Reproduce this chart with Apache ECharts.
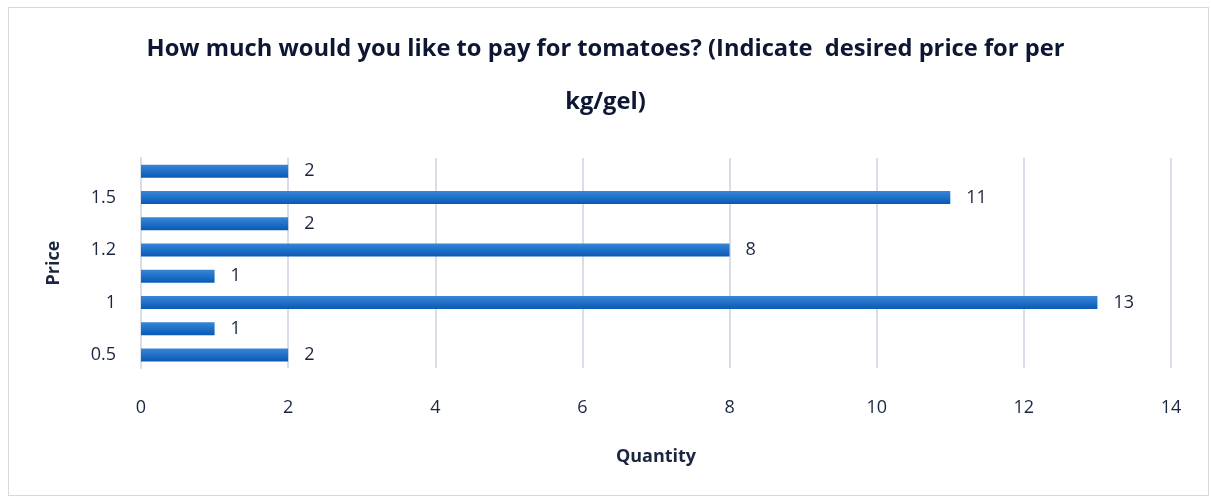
<!DOCTYPE html>
<html>
<head>
<meta charset="utf-8">
<script src="https://cdn.jsdelivr.net/npm/echarts@6/dist/echarts.min.js"></script>
<style>
  html, body { margin: 0; padding: 0; background: #fff; }
  #frame { position: absolute; left: 8px; top: 7px; width: 1201px; height: 489px; border: 1px solid #d9d9d9; box-sizing: border-box; }
  #main { width: 1211px; height: 498px; }
</style>
</head>
<body>
<div id="frame"></div>
<div id="main"></div>
<script>
// 价格分类（从下到上）
const prices = ['0.5', '0.8', '1', '1.1', '1.2', '1.3', '1.5', '2'];
// 数量
const quantities = [2, 1, 13, 1, 8, 2, 11, 2];
// 横轴刻度
const xMin = 0;
const xMax = 14;
const xStep = 2;

const chart = echarts.init(document.getElementById('main'));

const textColor = '#1a2540';

chart.setOption({
  animation: false,
  title: {
    text: 'How much would you like to pay for tomatoes? (Indicate  desired price for per\nkg/gel)',
    left: 'center',
    top: 18,
    textStyle: {
      fontFamily: 'Open Sans',
      fontWeight: 'bold',
      fontSize: 23.7,
      color: '#0d1733',
      lineHeight: 53
    }
  },
  grid: {
    left: 141,
    right: 40,
    top: 158,
    bottom: 130,
    containLabel: false
  },
  xAxis: {
    type: 'value',
    min: xMin,
    max: xMax,
    interval: xStep,
    name: 'Quantity',
    nameLocation: 'middle',
    nameGap: 80,
    nameTextStyle: { fontFamily: 'Open Sans', fontWeight: 'bold', fontSize: 18, color: textColor },
    axisLine: { show: false },
    axisTick: { show: false },
    axisLabel: { fontFamily: 'Open Sans', fontSize: 18, color: textColor, margin: 31 },
    splitLine: { show: true, lineStyle: { color: '#d9dde8', width: 2 } }
  },
  yAxis: {
    type: 'category',
    data: prices,
    name: 'Price',
    nameLocation: 'middle',
    nameGap: 78,
    nameRotate: 90,
    nameTextStyle: { fontFamily: 'Open Sans', fontWeight: 'bold', fontSize: 18, color: textColor },
    axisLine: { show: true, lineStyle: { color: '#d9dde8', width: 2 } },
    axisTick: { show: false },
    axisLabel: { interval: 1, fontFamily: 'Open Sans', fontSize: 18, color: textColor, margin: 25 }
  },
  series: [{
    type: 'bar',
    data: quantities,
    barWidth: 13,
    itemStyle: {
      color: new echarts.graphic.LinearGradient(0, 0, 0, 1, [
        { offset: 0, color: '#3b86d6' },
        { offset: 0.5, color: '#1f70c8' },
        { offset: 1, color: '#0a5ab4' }
      ])
    },
    label: {
      show: true,
      position: 'right',
      distance: 16,
      fontFamily: 'Open Sans',
      fontSize: 18,
      color: textColor
    }
  }]
});
</script>
</body>
</html>
